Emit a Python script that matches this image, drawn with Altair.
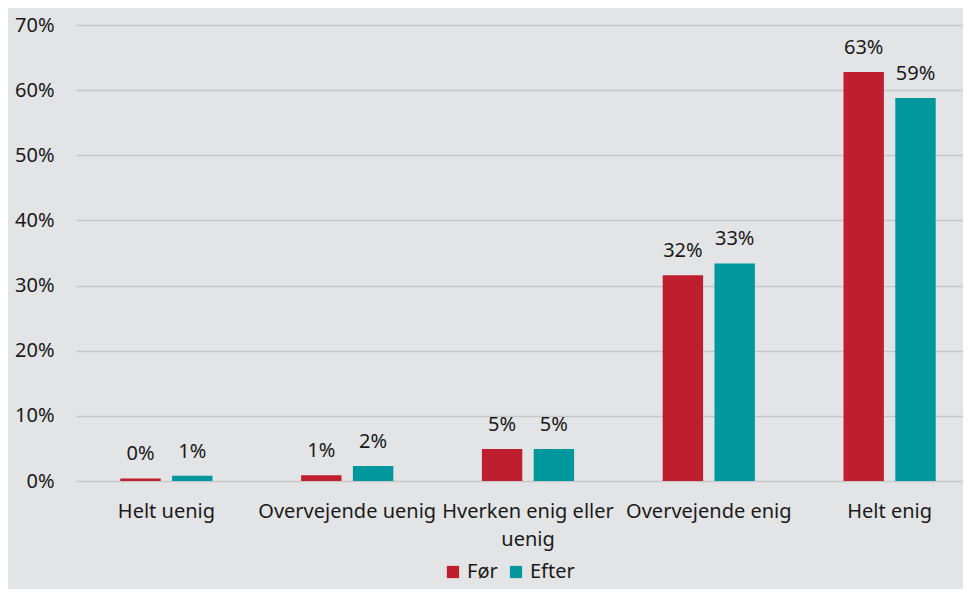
import altair as alt
import pandas as pd

categories = ["Helt uenig", "Overvejende uenig", "Hverken enig eller uenig", "Overvejende enig", "Helt enig"]
series = ["Før", "Efter"]
foer = [0.004, 0.009, 0.049, 0.316, 0.628]
efter = [0.008, 0.023, 0.049, 0.334, 0.588]
foer_labels = ["0%", "1%", "5%", "32%", "63%"]
efter_labels = ["1%", "2%", "5%", "33%", "59%"]
y_ticks = [0, 0.1, 0.2, 0.3, 0.4, 0.5, 0.6, 0.7]

rows = []
for c, v, l in zip(categories, foer, foer_labels):
    rows.append({"kategori": c, "serie": "Før", "andel": v, "label": l})
for c, v, l in zip(categories, efter, efter_labels):
    rows.append({"kategori": c, "serie": "Efter", "andel": v, "label": l})
df = pd.DataFrame(rows)

FONT = "Noto Sans"
TXT = "#1a1a1a"

x = alt.X("kategori:N", sort=categories, title=None,
          scale=alt.Scale(paddingInner=0.49, paddingOuter=0.245, range=[0, 904]),
          axis=alt.Axis(labelAngle=0, labelFont=FONT, labelFontSize=20, labelColor=TXT,
                        ticks=False, domain=False, labelPadding=20, labelLineHeight=28,
                        labelLimit=400,
                        labelExpr="datum.value == 'Hverken enig eller uenig' ? ['Hverken enig eller', 'uenig'] : datum.value"))
xoff = alt.XOffset("serie:N", sort=series, scale=alt.Scale(paddingInner=0.22, paddingOuter=0))
y = alt.Y("andel:Q", title=None,
          scale=alt.Scale(domain=[0, 0.7], nice=False),
          axis=alt.Axis(values=y_ticks, format=".0%", labelFont=FONT, labelFontSize=20,
                        labelColor=TXT, ticks=False, domain=False, labelPadding=22,
                        gridColor="#c6c7c9", gridWidth=1.5))
color = alt.Color("serie:N", sort=series,
                  scale=alt.Scale(domain=series, range=["#be1e2d", "#00979d"]),
                  legend=alt.Legend(title=None, orient="none", legendX=367, legendY=537,
                                    direction="horizontal", symbolType="square", symbolSize=150,
                                    symbolStrokeWidth=0, labelFont=FONT, labelFontSize=20,
                                    labelColor=TXT, columnPadding=8, labelOffset=4))

bars = alt.Chart(df).mark_bar().encode(x=x, xOffset=xoff, y=y, color=color)
labels = alt.Chart(df).mark_text(baseline="bottom", dy=-14, font=FONT, fontSize=20, color=TXT).encode(
    x=x, xOffset=xoff, y=y, text="label:N")

chart = (bars + labels).properties(
    width=887, height=456,
    background="#e3e4e6",
    autosize=alt.AutoSizeParams(type="none"),
    padding={"left": 68, "top": 17, "right": 0, "bottom": 108},
).configure_view(stroke=None)

chart.save("out.html", embed_options={"renderer": "svg", "actions": False})
